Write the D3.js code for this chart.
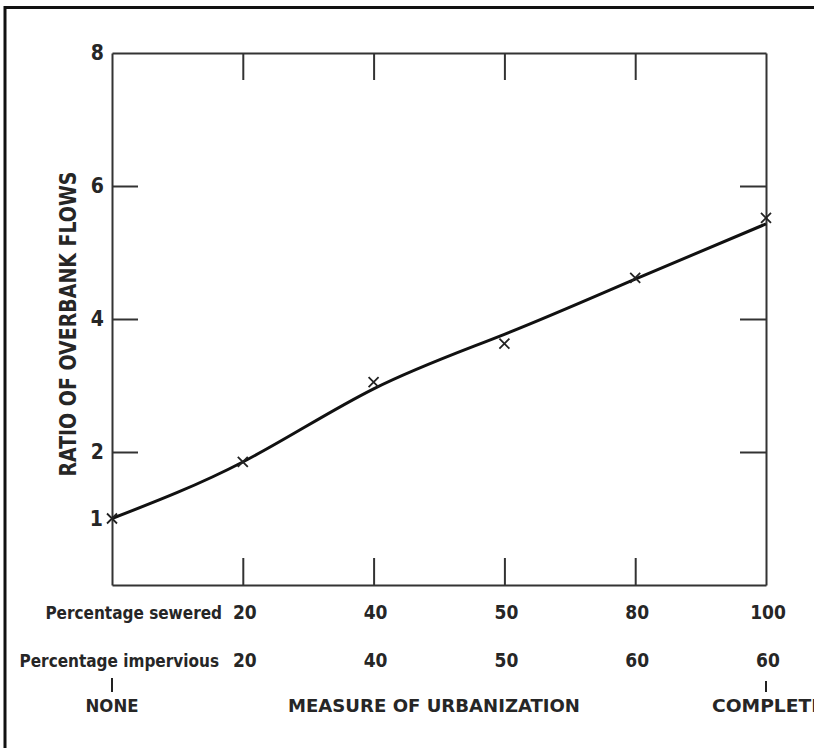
<!DOCTYPE html>
<html><head><meta charset="utf-8">
<script src="https://cdn.jsdelivr.net/npm/d3@7"></script>
<style>
body{margin:0;background:#fff}
svg{display:block}
text{font-family:"DejaVu Sans Condensed","DejaVu Sans","Liberation Sans Narrow",sans-serif;font-stretch:condensed;font-weight:bold;fill:#262626}
</style>
</head><body><svg id="c" width="814" height="748"></svg>
<script>
// Positions along "measure of urbanization" (none .. complete)
const categories = [0, 1, 2, 3, 4, 5];
const sewered = [null, 20, 40, 50, 80, 100];
const impervious = [null, 20, 40, 50, 60, 60];
// Observed ratios (x markers)
const observed = [1.0, 1.85, 3.05, 3.63, 4.62, 5.52];
// Fitted smooth curve through the points
const fitted = [1.0, 1.85, 2.95, 3.77, 4.60, 5.43];
const yTicks = [1, 2, 4, 6, 8];
const yTickMarks = [2, 4, 6];
const innerTicks = [1, 2, 3, 4];
const endLabels = ["NONE", "COMPLETE"];
const rowLabels = ["Percentage sewered", "Percentage impervious"];
const xTitle = "MEASURE OF URBANIZATION";
const yTitle = "RATIO OF OVERBANK FLOWS";

const svg = d3.select("#c");
const L = 112, R = 766, T = 53, B = 585;
const x = d3.scalePoint().domain(categories).range([L, R]);
const y = d3.scaleLinear().domain([0, 8]).range([B, T]);

// outer frame (top and left edges)
svg.append("path").attr("d", "M5,748V7.5H814").attr("fill", "none")
  .attr("stroke", "#111").attr("stroke-width", 3);

const axStyle = g => {
  g.selectAll("path.domain").attr("stroke", "#333").attr("stroke-width", 2);
  g.selectAll(".tick line").attr("stroke", "#333").attr("stroke-width", 2);
};

// left axis
const gl = svg.append("g").attr("transform", `translate(${L},0)`)
  .call(d3.axisLeft(y).tickValues(yTicks).tickSize(-26).tickSizeOuter(0).tickPadding(8).tickFormat(d3.format("d")));
gl.call(axStyle);
gl.selectAll(".tick").filter(d => !yTickMarks.includes(d)).select("line").remove();
gl.selectAll(".tick text").attr("font-size", 21).attr("fill", "#262626")
  .attr("font-family", null).attr("font-weight", "bold");
gl.selectAll(".tick").filter(d => d === 1).select("text").attr("x", -9);

// right axis
const gr = svg.append("g").attr("transform", `translate(${R},0)`)
  .call(d3.axisRight(y).tickValues(yTickMarks).tickSize(-26).tickSizeOuter(0).tickFormat(""));
gr.call(axStyle);

// top axis
const gt = svg.append("g").attr("transform", `translate(0,${T})`)
  .call(d3.axisTop(x).tickValues(innerTicks).tickSize(-27).tickSizeOuter(0).tickFormat(""));
gt.call(axStyle);

// bottom axis
const gb = svg.append("g").attr("transform", `translate(0,${B})`)
  .call(d3.axisBottom(x).tickValues(innerTicks).tickSize(-27).tickSizeOuter(0).tickFormat(""));
gb.call(axStyle);

// fitted curve
const line = d3.line().x((d, i) => x(categories[i])).y(d => y(d)).curve(d3.curveNatural);
svg.append("path").datum(fitted).attr("d", line).attr("fill", "none")
  .attr("stroke", "#111").attr("stroke-width", 3);

// markers
const m = 5;
svg.append("g").selectAll("path").data(observed).join("path")
  .attr("d", (d, i) => {
    const cx = x(categories[i]), cy = y(d);
    return `M${cx - m},${cy - m}L${cx + m},${cy + m}M${cx - m},${cy + m}L${cx + m},${cy - m}`;
  })
  .attr("stroke", "#222").attr("stroke-width", 1.8).attr("fill", "none");

// y title
svg.append("text").attr("transform", "translate(76,324) rotate(-90)")
  .attr("text-anchor", "middle").attr("font-size", 23)
  .attr("textLength", 305).attr("lengthAdjust", "spacingAndGlyphs").text(yTitle);

// rows below axis
const rows = [{vals: sewered, y: 619, label: rowLabels[0], end: 222},
              {vals: impervious, y: 667, label: rowLabels[1], end: 219}];
rows.forEach(r => {
  svg.append("text").attr("x", r.end).attr("y", r.y).attr("text-anchor", "end")
    .attr("font-size", 17).text(r.label);
  svg.append("g").selectAll("text").data(categories.filter(c => r.vals[c] !== null)).join("text")
    .attr("x", c => x(c) + 2).attr("y", r.y).attr("text-anchor", "middle")
    .attr("font-size", 19).text(c => r.vals[c]);
});

// end markers and labels
[0, 5].forEach((c, k) => {
  svg.append("line").attr("x1", x(c)).attr("x2", x(c)).attr("y1", k ? 681 : 678).attr("y2", 692)
    .attr("stroke", "#222").attr("stroke-width", 2);
});
svg.append("text").attr("x", x(0)).attr("y", 712).attr("text-anchor", "middle")
  .attr("font-size", 18).attr("textLength", 53).attr("lengthAdjust", "spacingAndGlyphs").text(endLabels[0]);
svg.append("text").attr("x", 712).attr("y", 712).attr("text-anchor", "start")
  .attr("font-size", 18).attr("textLength", 112).attr("lengthAdjust", "spacingAndGlyphs").text(endLabels[1]);
svg.append("text").attr("x", 434).attr("y", 712).attr("text-anchor", "middle")
  .attr("font-size", 18).attr("textLength", 292).attr("lengthAdjust", "spacingAndGlyphs").text(xTitle);
</script>
</body></html>
